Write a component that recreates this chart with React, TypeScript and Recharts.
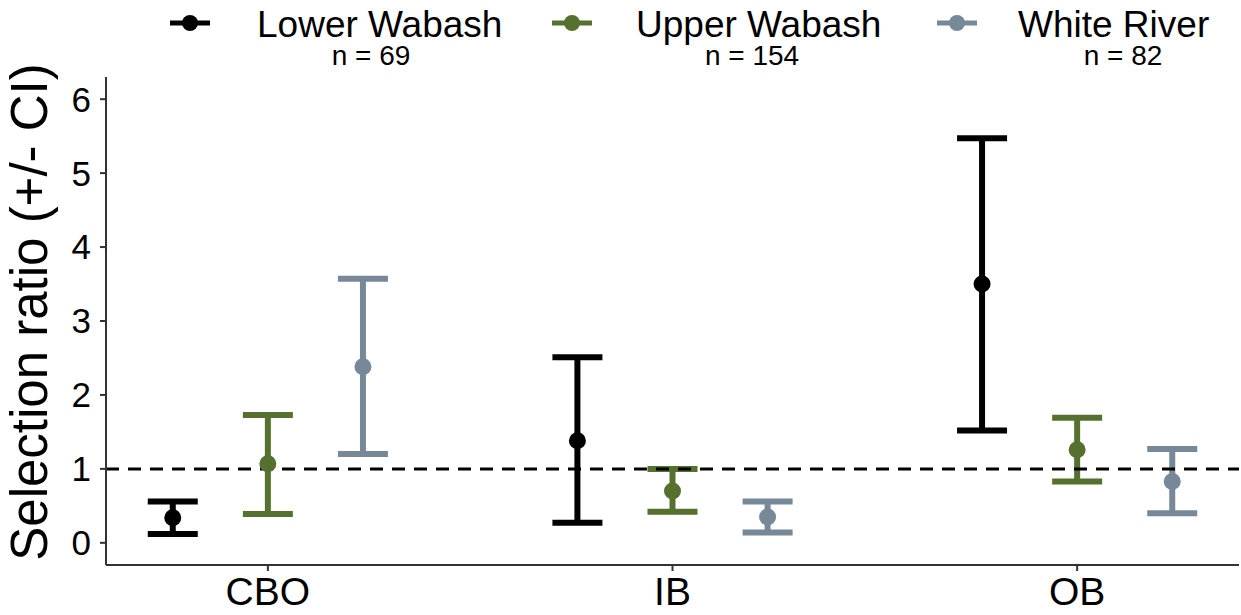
import { ComposedChart, Scatter, ErrorBar, XAxis, YAxis, ReferenceLine } from 'recharts';

const categories = ['CBO', 'IB', 'OB'];
const seriesNames = ['Lower Wabash', 'Upper Wabash', 'White River'];
const seriesColors = ['#000000', '#56702f', '#778899'];
const sampleSizes = [69, 154, 82];

// selection ratio with lower / upper CI, per habitat category
const lowerWabashRatio = [0.34, 1.38, 3.5];
const lowerWabashLow = [0.12, 0.27, 1.52];
const lowerWabashHigh = [0.56, 2.51, 5.47];

const upperWabashRatio = [1.07, 0.7, 1.26];
const upperWabashLow = [0.39, 0.42, 0.83];
const upperWabashHigh = [1.73, 1.0, 1.69];

const whiteRiverRatio = [2.38, 0.35, 0.83];
const whiteRiverLow = [1.2, 0.14, 0.4];
const whiteRiverHigh = [3.57, 0.56, 1.27];

const yTicks = [0, 1, 2, 3, 4, 5, 6];

const FONT = '"Liberation Sans", Arial, sans-serif';
const DODGE = 0.235;

function buildSeries(ratio: number[], low: number[], high: number[], idx: number) {
  return categories.map((cat, i) => ({
    category: cat,
    x: i + 1 + (idx - 1) * DODGE,
    y: ratio[i],
    err: [ratio[i] - low[i], high[i] - ratio[i]],
  }));
}

const series = [
  buildSeries(lowerWabashRatio, lowerWabashLow, lowerWabashHigh, 0),
  buildSeries(upperWabashRatio, upperWabashLow, upperWabashHigh, 1),
  buildSeries(whiteRiverRatio, whiteRiverLow, whiteRiverHigh, 2),
];

const legendIconX = [190, 572, 957];
const legendTextX = [257, 636, 1018];
const legendCountX = [371, 752, 1123];

function TopLegend() {
  return (
    <svg width={1241} height={77} style={{ position: 'absolute', left: 0, top: 0, pointerEvents: 'none' }}>
      {seriesNames.map((name, i) => (
        <g key={name}>
          <line x1={legendIconX[i] - 20} x2={legendIconX[i] + 20} y1={23} y2={23} stroke={seriesColors[i]} strokeWidth={5} />
          <circle cx={legendIconX[i]} cy={23} r={8} fill={seriesColors[i]} />
          <text x={legendTextX[i]} y={37} fontSize={37} fontFamily={FONT} fill="#000">{name}</text>
          <text x={legendCountX[i]} y={65} fontSize={28} fontFamily={FONT} fill="#000" textAnchor="middle">
            n = {sampleSizes[i]}
          </text>
        </g>
      ))}
    </svg>
  );
}

export default function App() {
  return (
    <div style={{ position: 'absolute', left: 0, top: 0, width: 1241, height: 615, background: '#fff', fontFamily: FONT }}>
      <ComposedChart width={1241} height={615} margin={{ top: 77, right: 2, bottom: 0, left: 0 }}>
        <XAxis
          type="number"
          dataKey="x"
          domain={[0.6, 3.4]}
          ticks={[1, 2, 3]}
          allowDataOverflow
          tickFormatter={(v: number) => categories[v - 1]}
          height={50}
          tickSize={6}
          tickMargin={6}
          tick={{ fontSize: 39, fill: '#000', fontFamily: FONT }}
          axisLine={{ stroke: '#333', strokeWidth: 2 }}
          tickLine={{ stroke: '#333', strokeWidth: 2 }}
        />
        <YAxis
          type="number"
          dataKey="y"
          domain={[-0.3, 6.3]}
          ticks={yTicks}
          allowDataOverflow
          width={106}
          tickSize={6}
          tickMargin={9}
          tick={{ fontSize: 35, fill: '#000', fontFamily: FONT }}
          axisLine={{ stroke: '#333', strokeWidth: 2 }}
          tickLine={{ stroke: '#333', strokeWidth: 2 }}
          label={{
            content: () => (
              <text
                transform="translate(47,312) rotate(-90)"
                textAnchor="middle"
                fontSize={51}
                fontFamily={FONT}
                fill="#000"
              >
                Selection ratio (+/- CI)
              </text>
            ),
          }}
        />
        {series.map((data, i) => (
          <Scatter
            key={seriesNames[i]}
            name={seriesNames[i]}
            data={data}
            dataKey="y"
            fill={seriesColors[i]}
            isAnimationActive={false}
            shape={(p: any) => <circle cx={p.cx} cy={p.cy} r={8.5} fill={seriesColors[i]} />}
          >
            <ErrorBar
              dataKey="err"
              direction="y"
              width={25}
              stroke={seriesColors[i]}
              strokeWidth={6}
              isAnimationActive={false}
            />
          </Scatter>
        ))}
        <ReferenceLine y={1} stroke="#000" strokeWidth={3} strokeDasharray="13 9" />
      </ComposedChart>
      <TopLegend />
    </div>
  );
}
